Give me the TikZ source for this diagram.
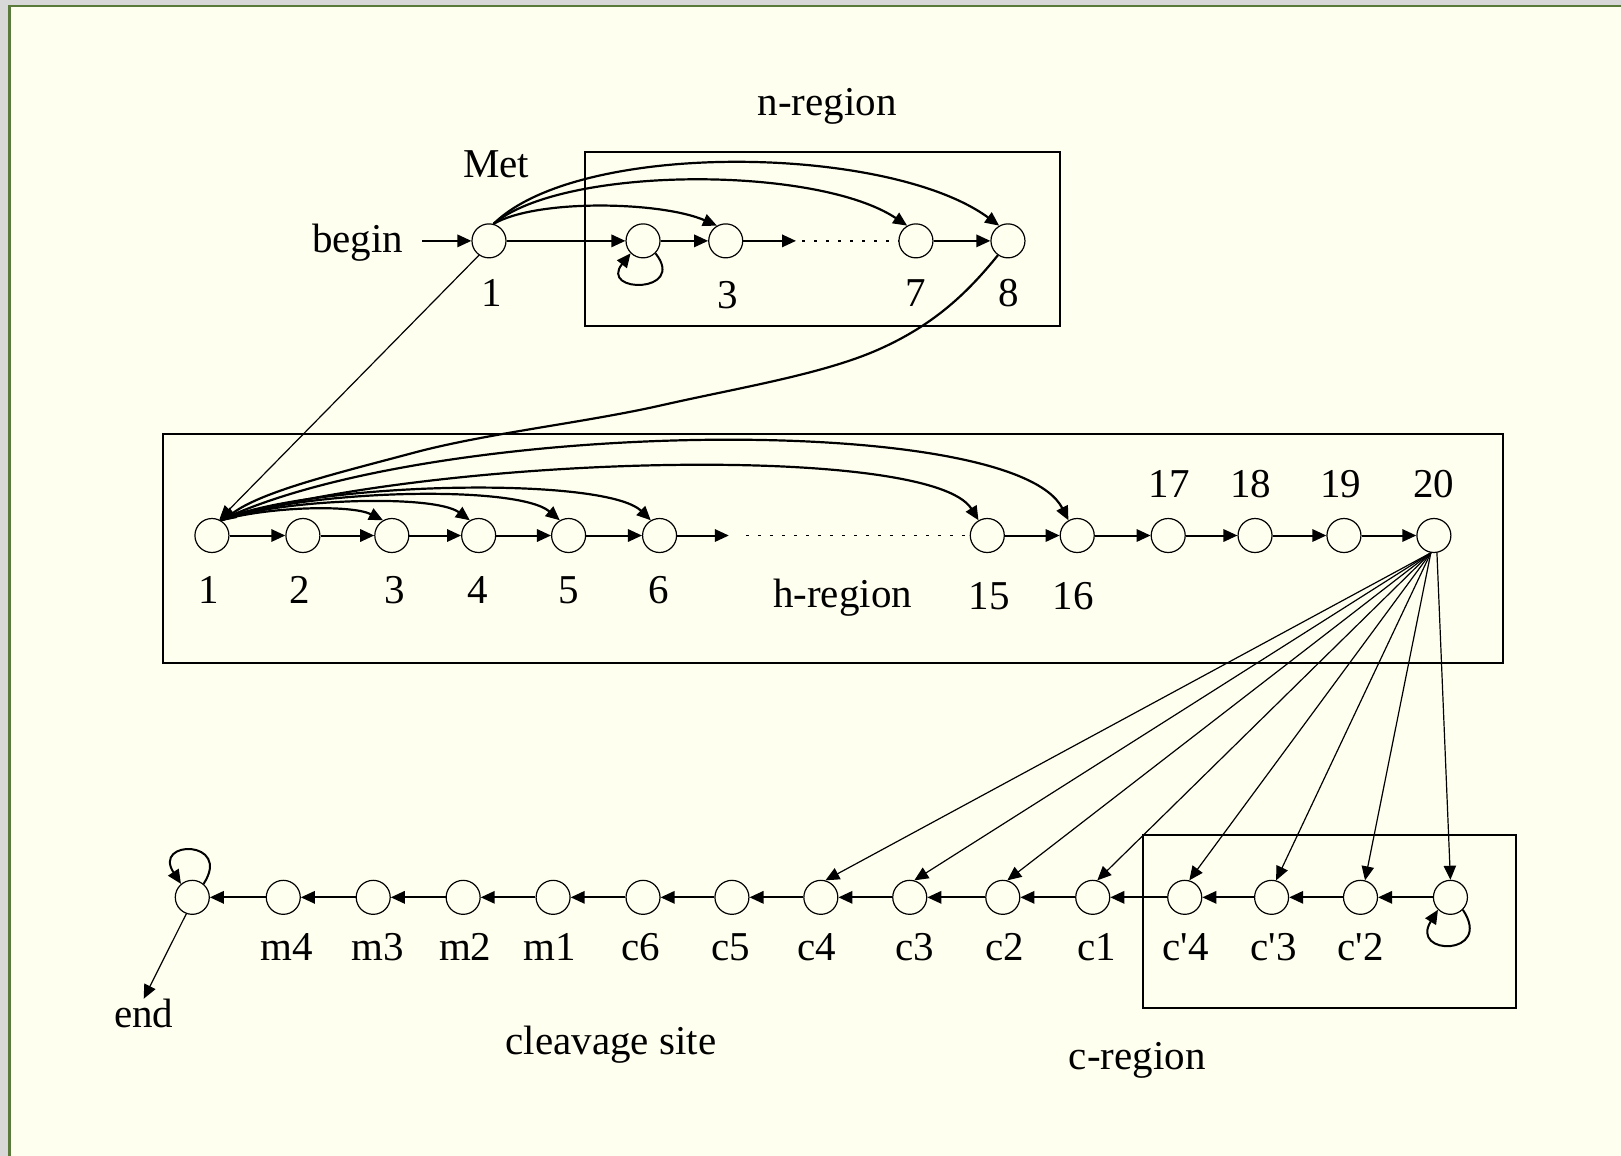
\documentclass[tikz,border=0pt]{standalone}
\usepackage{fontspec}
\setmainfont{Liberation Serif}
\usetikzlibrary{arrows.meta}
\definecolor{bg}{HTML}{FFFFF0}
\definecolor{frgray}{HTML}{D8D8D8}
\definecolor{frgreen}{HTML}{5A7A3C}
\begin{document}
\begin{tikzpicture}[x=0.5169pt,y=-0.5169pt,
  st/.style={draw,circle,minimum size=17pt,inner sep=0pt,line width=0.6pt},
  txt/.style={anchor=base,inner sep=0pt,font=\fontsize{20.5}{24}\selectfont},
  arr/.style={-{Triangle[length=7pt,width=6.2pt]},line width=1pt},
  arrthin/.style={-{Triangle[length=7pt,width=6.2pt]},line width=0.6pt},
  arc/.style={-{Triangle[length=7pt,width=6.2pt]},line width=1.1pt},
  dots/.style={line width=0.8pt,dash pattern=on 1.2pt off 4.8pt},
  regbox/.style={line width=1pt}]
% background and frame
\fill[bg] (0,0) rectangle (1568,1118);
\fill[frgray] (0,0) rectangle (1568,4.8);
\fill[frgray] (0,0) rectangle (8,1118);
\fill[frgreen] (8,4.8) rectangle (1568,7);
\fill[frgreen] (8,4.8) rectangle (10.3,1118);
\useasboundingbox (0,0) rectangle (1568,1118);

% ---------- n-region ----------
\draw[regbox] (566,147) rectangle (1025,315);
\node[txt] (tnreg) at (800,112) {n-region};
\node[txt] (tmet) at (480,172) {Met};
\node[txt] (tbegin) at (346,244) {begin};
\node[st] (n1) at (473,233) {};
\node[st] (n2) at (622,233) {};
\node[st] (n3) at (702,233) {};
\node[st] (n7) at (886,233) {};
\node[st] (n8) at (975,233) {};
\node[txt] (ln1) at (476,296) {1};
\node[txt] (ln3) at (704,298) {3};
\node[txt] (ln7) at (886,296) {7};
\node[txt] (ln8) at (976,296) {8};
\coordinate (nstub) at (770,233);
\coordinate (ndot) at (776,233);
\draw[arr] (tbegin.east |- n1) ++(18,0) coordinate (bstart) -- (n1.west);
\draw[arr] (n1.east) -- (n2.west);
\draw[arr] (n2.east) -- (n3.west);
\draw[arr] (n3.east) -- (nstub);
\draw[dots] (ndot) -- (n7.west);
\draw[arr] (n7.east) -- (n8.west);
\draw[arr] (n2.-45) .. controls (665,284) and (579,284) .. (n2.-135);
\draw[arc] (n1.75) .. controls (520,192) and (640,195) .. (n3.120);
\draw[arc] (n1.75) .. controls (545,160) and (790,160) .. (n7.120);
\draw[arc] (n1.75) .. controls (560,135) and (860,140) .. (n8.120);

% ---------- h-region ----------
\draw[regbox] (158,420) rectangle (1454,641);
\foreach \i/\x in {1/205,2/293,3/379,4/463,5/550,6/638,15/955,16/1042,17/1130,18/1214,19/1300,20/1387}
  \node[st] (h\i) at (\x,518) {};
\foreach \i/\x in {1/202,2/290,3/382,4/462,5/550,6/637}
  \node[txt] (lh\i) at (\x,584) {\i};
\node[txt] (lh15) at (957,590) {15};
\node[txt] (lh16) at (1038,590) {16};
\foreach \i/\x in {17/1131,18/1210,19/1297,20/1387}
  \node[txt] (lh\i) at (\x,481) {\i};
\node[txt] (threg) at (815,588) {h-region};
\coordinate (hstub) at (705,518);
\coordinate (hdot) at (722,518);
\draw[arr] (h1.east) -- (h2.west);
\draw[arr] (h2.east) -- (h3.west);
\draw[arr] (h3.east) -- (h4.west);
\draw[arr] (h4.east) -- (h5.west);
\draw[arr] (h5.east) -- (h6.west);
\draw[arr] (h6.east) -- (hstub);
\draw[dots] (hdot) -- (h15.west);
\draw[arr] (h15.east) -- (h16.west);
\draw[arr] (h16.east) -- (h17.west);
\draw[arr] (h17.east) -- (h18.west);
\draw[arr] (h18.east) -- (h19.west);
\draw[arr] (h19.east) -- (h20.west);
\draw[arc] (h1.60) .. controls (260,490) and (340,488) .. (h3.120);
\draw[arc] (h1.60) .. controls (275,482) and (420,478) .. (h4.120);
\draw[arc] (h1.60) .. controls (290,474) and (500,468) .. (h5.120);
\draw[arc] (h1.60) .. controls (300,466) and (585,460) .. (h6.120);
\draw[arc] (h1.60) .. controls (420,440) and (900,428) .. (h15.120);
\draw[arc] (h1.60) .. controls (420,405) and (980,398) .. (h16.120);
% from n-region into h1
\draw[arrthin] (n1.235) -- (h1.65);
\coordinate (p8a) at (850,338);
\coordinate (p8b) at (640,392);
\coordinate (p8c) at (400,438);
\draw[arc] (n8.235) .. controls (936,283) and (904,314) .. (p8a)
   .. controls (796,362) and (715,375) .. (p8b)
   .. controls (565,409) and (471,419) .. (p8c)
   .. controls (329,457) and (254,475) .. (h1.55);

% ---------- bottom row ----------
\node[st] (bend) at (186,868) {};
\foreach \n/\x in {m4/274,m3/361,m2/448,m1/535,c6/622,c5/708,c4/794,c3/880,c2/970,c1/1057,cp4/1146,cp3/1230,cp2/1316,cp1/1403}
  \node[st] (\n) at (\x,868) {};
\foreach \n/\x/\t in {m4/277/m4,m3/365/m3,m2/450/m2,m1/532/m1,c6/620/c6,c5/707/c5,c4/790/c4,c3/885/c3,c2/972/c2,c1/1061/c1}
  \node[txt] (l\n) at (\x,929) {\t};
\node[txt] (lcp4) at (1147,929) {c\textquotesingle4};
\node[txt] (lcp3) at (1232,929) {c\textquotesingle3};
\node[txt] (lcp2) at (1316,929) {c\textquotesingle2};
\draw[regbox] (1106,808) rectangle (1466,975);
\node[txt] (tend) at (139,994) {end};
\node[txt] (tcleav) at (591,1020) {cleavage site};
\node[txt] (tcreg) at (1100,1035) {c-region};
\draw[arr] (m4.west) -- (bend.east);
\draw[arr] (m3.west) -- (m4.east);
\draw[arr] (m2.west) -- (m3.east);
\draw[arr] (m1.west) -- (m2.east);
\draw[arr] (c6.west) -- (m1.east);
\draw[arr] (c5.west) -- (c6.east);
\draw[arr] (c4.west) -- (c5.east);
\draw[arr] (c3.west) -- (c4.east);
\draw[arr] (c2.west) -- (c3.east);
\draw[arr] (c1.west) -- (c2.east);
\draw[arr] (cp4.west) -- (c1.east);
\draw[arr] (cp3.west) -- (cp4.east);
\draw[arr] (cp2.west) -- (cp3.east);
\draw[arr] (cp1.west) -- (cp2.east);
\draw[arr] (bend.50) .. controls (225,812) and (147,812) .. (bend.130);
\draw[arr] (cp1.-45) .. controls (1445,925) and (1363,925) .. (cp1.-135);
\draw[arrthin] (bend.250) -- (tend.north);
% fan from 20
\foreach \n in {c4,c3,c2,c1,cp4,cp3,cp2}
  \draw[arrthin] (h20.-100) -- (\n.75);
\draw[arrthin] (h20.-80) -- (cp1.north);
\end{tikzpicture}
\end{document}
